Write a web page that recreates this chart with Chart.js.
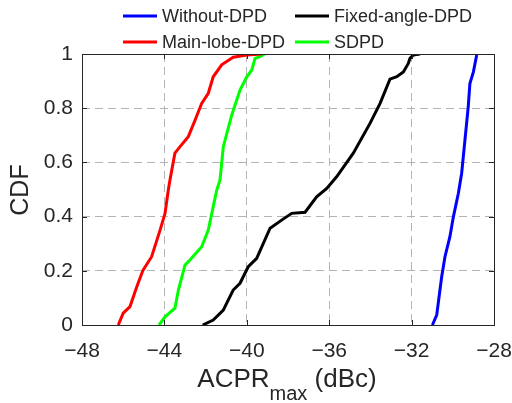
<!DOCTYPE html>
<html>
<head>
<meta charset="utf-8">
<script src="https://cdn.jsdelivr.net/npm/chart.js@4.4.0/dist/chart.umd.min.js"></script>
<style>
  html, body { margin: 0; padding: 0; background: #fff; }
  #wrap { width: 512px; height: 403px; position: relative; }
</style>
</head>
<body>
<div id="wrap"><canvas id="cdf"></canvas></div>
<script>
// x tick positions / y tick positions
const xTicks = [-48, -44, -40, -36, -32, -28];
const yTicks = [0, 0.2, 0.4, 0.6, 0.8, 1];

// Without-DPD
const woX = [-30.99, -30.78, -30.54, -30.38, -30.14, -29.97, -29.73, -29.57, -29.41, -29.25, -29.17, -29.0, -28.84];
const woY = [0, 0.037, 0.178, 0.252, 0.326, 0.4, 0.486, 0.56, 0.683, 0.806, 0.891, 0.934, 0.996];

// Fixed-angle-DPD
const faX = [-42.14, -41.63, -41.14, -40.98, -40.66, -40.33, -39.93, -39.52, -38.87, -38.31, -37.82, -37.17, -36.61, -36.12, -35.64, -34.83, -34.02, -33.53, -33.05, -32.72, -32.40, -32.16, -32.08, -31.92, -31.59];
const faY = [0, 0.018, 0.055, 0.08, 0.129, 0.154, 0.215, 0.246, 0.357, 0.387, 0.412, 0.416, 0.473, 0.504, 0.547, 0.634, 0.744, 0.818, 0.907, 0.916, 0.934, 0.965, 0.984, 0.996, 1.0];

// Main-lobe-DPD
const mlX = [-46.24, -46.0, -45.67, -45.34, -45.10, -45.03, -44.62, -44.21, -43.97, -43.81, -43.73, -43.49, -43.24, -42.84, -42.51, -42.19, -41.87, -41.63, -41.22, -40.66, -40.0, -39.28];
const mlY = [0, 0.044, 0.068, 0.141, 0.19, 0.203, 0.252, 0.35, 0.412, 0.498, 0.535, 0.634, 0.658, 0.695, 0.756, 0.818, 0.855, 0.916, 0.96, 0.988, 0.996, 1.0];

// SDPD
const sdX = [-44.26, -43.97, -43.49, -43.32, -43.0, -42.76, -42.19, -41.87, -41.63, -41.46, -41.30, -41.14, -40.73, -40.33, -40.0, -39.76, -39.6, -39.36, -39.15];
const sdY = [0, 0.03, 0.062, 0.129, 0.221, 0.24, 0.289, 0.35, 0.437, 0.498, 0.535, 0.658, 0.775, 0.867, 0.916, 0.941, 0.984, 0.99, 1.0];

const seriesNames = ['Without-DPD', 'Fixed-angle-DPD', 'Main-lobe-DPD', 'SDPD'];
const seriesColors = ['#0000ff', '#000000', '#ff0000', '#00ff00'];

const INK = '#262626';
const FONT = "'Liberation Sans', Arial, sans-serif";

const pts = (xs, ys) => xs.map((x, i) => ({ x, y: ys[i] }));
const seriesData = [pts(woX, woY), pts(faX, faY), pts(mlX, mlY), pts(sdX, sdY)];

/* ── frame, inward ticks, legend and axis titles ── */
const decor = {
  id: 'decor',
  afterDatasetsDraw(chart) {
    const { ctx, chartArea: a, scales } = chart;
    ctx.save();
    ctx.strokeStyle = INK;
    ctx.lineWidth = 1;
    ctx.setLineDash([]);
    ctx.strokeRect(a.left + 0.5, a.top + 0.5, a.right - a.left, a.bottom - a.top);

    const tl = 5;
    ctx.beginPath();
    xTicks.forEach(v => {
      const px = Math.round(scales.x.getPixelForValue(v)) + 0.5;
      ctx.moveTo(px, a.bottom); ctx.lineTo(px, a.bottom - tl);
      ctx.moveTo(px, a.top); ctx.lineTo(px, a.top + tl);
    });
    yTicks.forEach(v => {
      const py = Math.round(scales.y.getPixelForValue(v)) + 0.5;
      ctx.moveTo(a.left, py); ctx.lineTo(a.left + tl, py);
      ctx.moveTo(a.right, py); ctx.lineTo(a.right - tl, py);
    });
    ctx.stroke();

    // legend, 2 x 2
    const cols = [123, 295];
    const rows = [16, 42];
    ctx.font = '18px ' + FONT;
    ctx.textBaseline = 'middle';
    ctx.textAlign = 'left';
    seriesNames.forEach((name, i) => {
      const lx = cols[i % 2], ly = rows[Math.floor(i / 2)];
      ctx.strokeStyle = seriesColors[i];
      ctx.lineWidth = 3;
      ctx.beginPath();
      ctx.moveTo(lx, ly); ctx.lineTo(lx + 34, ly);
      ctx.stroke();
      ctx.fillStyle = INK;
      ctx.fillText(name, lx + 39, ly + 1);
    });

    // x title with subscript
    ctx.textBaseline = 'alphabetic';
    const mainF = '26px ' + FONT, subF = '20px ' + FONT;
    ctx.font = mainF; const w1 = ctx.measureText('ACPR').width;
    ctx.font = subF; const w2 = ctx.measureText('max').width;
    ctx.font = mainF; const w3 = ctx.measureText(' (dBc)').width;
    let x0 = 287 - (w1 + w2 + w3) / 2;
    ctx.fillStyle = INK;
    ctx.font = mainF; ctx.fillText('ACPR', x0, 387);
    ctx.font = subF; ctx.fillText('max', x0 + w1, 400);
    ctx.font = mainF; ctx.fillText(' (dBc)', x0 + w1 + w2, 387);

    // y title
    ctx.translate(21, 190);
    ctx.rotate(-Math.PI / 2);
    ctx.textAlign = 'center';
    ctx.textBaseline = 'middle';
    ctx.font = '25px ' + FONT;
    ctx.fillText('CDF', 0, 0);
    ctx.restore();
  }
};

const gridOpts = { color: '#b4b4b4', lineWidth: 1, drawTicks: false };

new Chart(document.getElementById('cdf'), {
  type: 'line',
  data: {
    datasets: seriesData.map((d, i) => ({
      label: seriesNames[i],
      data: d,
      borderColor: seriesColors[i],
      borderWidth: 3,
      pointRadius: 0,
      tension: 0,
      fill: false
    }))
  },
  options: {
    responsive: true,
    maintainAspectRatio: false,
    animation: false,
    layout: { padding: { top: 54, right: 18, left: 0, bottom: 0 } },
    plugins: { legend: { display: false }, tooltip: { enabled: false } },
    scales: {
      x: {
        type: 'linear',
        min: -48, max: -28,
        afterFit: s => { s.height = 78; s.paddingLeft = 0; s.paddingRight = 0; },
        afterBuildTicks: s => { s.ticks = xTicks.map(v => ({ value: v })); },
        grid: gridOpts,
        border: { display: false, dash: [8, 5] },
        ticks: {
          color: INK,
          font: { family: FONT, size: 21 },
          padding: 14,
          maxRotation: 0,
          callback: v => String(v).replace('-', '\u2212')
        }
      },
      y: {
        type: 'linear',
        min: 0, max: 1,
        afterFit: s => { s.width = 82; s.paddingTop = 0; s.paddingBottom = 0; },
        afterBuildTicks: s => { s.ticks = yTicks.map(v => ({ value: v })); },
        grid: gridOpts,
        border: { display: false, dash: [8, 5] },
        ticks: {
          color: INK,
          font: { family: FONT, size: 21 },
          padding: 9,
          callback: v => String(+v.toFixed(1))
        }
      }
    }
  },
  plugins: [decor]
});
</script>
</body>
</html>
